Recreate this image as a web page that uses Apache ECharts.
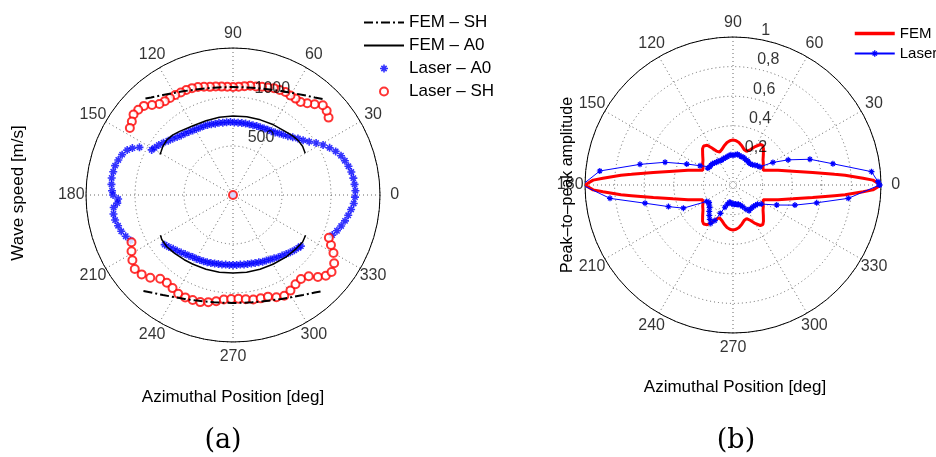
<!DOCTYPE html>
<html><head><meta charset="utf-8">
<script src="https://cdn.jsdelivr.net/npm/echarts@6/dist/echarts.min.js"></script>
<style>html,body{margin:0;padding:0;background:#fff}#c{width:936px;height:457px}</style>
</head><body><div id="c"></div>
<script>
// ---------- tick labels ----------
const angleTicks = [0,30,60,90,120,150,180,210,240,270,300,330];
const radiusTicksA = [500, 1000];
const radiusTickLabelsA = ['500', '1000'];
const radiusTicksB = [0.2, 0.4, 0.6, 0.8, 1];
const radiusTickLabelsB = ['0,2', '0,4', '0,6', '0,8', '1'];

// ---------- (a) data: [angle deg, wave speed m/s] ----------
const femShUpper = [[47,1340],[50,1299],[55,1246],[60,1203],[65,1170],[70,1144],[75,1125],[80,1112],[85,1104],[90,1102],[95,1104],[100,1112],[105,1125],[110,1144],[115,1170],[120,1203],[125,1246],[130,1299],[133,1340]];
const femShLower = [[227,1340],[230,1299],[235,1246],[240,1203],[245,1170],[250,1144],[255,1125],[260,1112],[265,1104],[270,1102],[275,1104],[280,1112],[285,1125],[290,1144],[295,1170],[300,1203],[305,1246],[310,1299],[313,1340]];
const femA0Upper = [[30,851],[35,867],[40,867],[45,857],[50,842],[60,827],[70,816],[80,811],[90,806],[100,806],[110,806],[120,816],[130,847],[135,867],[140,878],[145,872],[149,857],[151,852]];
const femA0Lower = [[209,847],[212,857],[218,857],[225,842],[233,827],[240,816],[250,806],[260,801],[270,796],[280,801],[290,806],[300,816],[310,832],[320,847],[326,857],[331,847]];
const laserA0 = [[0,0],
 [338,1092],[341,1122],[344,1148],[347,1173],[350,1194],[353,1214],[356,1235],[359,1245],
 [2,1250],[5,1245],[8,1240],[11,1230],[14,1214],[17,1194],[20,1173],[23,1138],[26,1097],[29,1051],
 [32,1000],[35,949],[38,908],[41,878],[44,847],[47,821],[50,801],[53,786],[56,770],[59,760],
 [62,755],[65,750],[68,745],[71,745],[74,740],[77,740],[80,740],[83,740],[86,740],[89,740],
 [92,745],[95,745],[98,745],[101,750],[104,750],[107,755],[110,760],[113,765],[116,765],[119,770],
 [122,776],[125,786],[128,796],[131,806],[134,821],[137,842],[140,862],[143,888],[146,913],[149,934],[151,949],
 [153,1071],[155,1133],[157,1173],[160,1204],[163,1224],[166,1240],[169,1245],[172,1250],[175,1245],
 [178,1235],[180,1224],[182,1173],[184,1184],[186,1224],[189,1235],[192,1230],[195,1214],[198,1199],[201,1173],[204,1143],
 [216,862],[219,842],[222,821],[225,806],[228,791],[231,776],[234,765],[237,755],[240,750],[243,745],
 [246,740],[249,735],[252,730],[255,724],[258,719],[261,719],[264,714],[267,714],[270,714],[273,714],
 [276,714],[279,719],[282,719],[285,724],[288,730],[291,735],[294,745],[297,750],[300,760],[303,770],
 [306,786],[309,796],[312,811],[315,827],[318,842],[321,857],[323,867]];
const laserSH = [[0,0],
 [39,1255],[42,1286],[45,1296],[48,1245],[51,1204],[54,1173],[57,1173],[60,1173],[63,1179],[66,1173],
 [69,1168],[72,1153],[75,1143],[78,1133],[81,1128],[84,1117],[87,1107],[90,1102],[93,1107],[96,1112],
 [99,1122],[102,1128],[105,1143],[108,1158],[111,1168],[114,1173],[117,1173],[120,1179],[123,1181],
 [126,1184],[129,1194],[132,1235],[135,1286],[138,1301],[141,1306],[144,1276],[147,1255],
 [205,1143],[209,1184],[213,1224],[217,1255],[221,1235],[225,1194],[229,1133],[233,1122],[237,1133],
 [241,1153],[245,1153],[249,1148],[253,1143],[257,1122],[261,1097],[265,1071],[269,1061],[273,1061],
 [277,1071],[281,1087],[285,1092],[289,1097],[293,1133],[297,1153],[301,1138],[305,1112],[309,1102],
 [313,1133],[316,1204],[319,1255],[322,1276],[326,1245],[330,1184],[333,1122],[336,1071]];

// ---------- (b) data: [angle deg, peak-to-peak amplitude] ----------
const femB = [[0,1.00],[2,0.946],[3,0.88],[5,0.76],[6,0.69],[9,0.545],[13,0.415],[18,0.32],[22,0.265],[26,0.228],
 [30,0.234],[35,0.25],[40,0.265],[45,0.29],[50,0.32],[53,0.335],[56,0.33],[60,0.30],[64,0.265],[68,0.245],
 [72,0.25],[77,0.27],[82,0.29],[86,0.30],[90,0.305],[94,0.30],[98,0.29],[103,0.27],[108,0.25],[112,0.24],
 [116,0.255],[120,0.29],[123,0.32],[127,0.33],[130,0.32],[135,0.29],[140,0.265],[145,0.25],[150,0.234],
 [154,0.228],[158,0.265],[162,0.32],[167,0.415],[171,0.545],[174,0.69],[175,0.76],[177,0.88],[178,0.946],[180,1.00],
 [182,0.946],[183,0.88],[185,0.76],[186,0.69],[189,0.545],[193,0.415],[198,0.32],[202,0.265],[206,0.228],
 [210,0.234],[215,0.25],[220,0.265],[225,0.29],[230,0.32],[233,0.33],[237,0.32],[240,0.29],[244,0.255],
 [248,0.24],[252,0.25],[257,0.27],[262,0.29],[266,0.30],[270,0.305],[274,0.30],[278,0.29],[283,0.27],
 [288,0.25],[292,0.245],[296,0.265],[300,0.30],[304,0.33],[307,0.335],[310,0.32],[315,0.29],[320,0.265],
 [325,0.25],[330,0.234],[334,0.228],[338,0.265],[342,0.32],[347,0.415],[351,0.545],[354,0.69],[355,0.76],
 [357,0.88],[358,0.946],[360,1.00]];
const laserB = [[0,0.99],[1.3,0.98],[5.5,0.94],[12,0.69],[18.5,0.548],[24.5,0.41],[29.5,0.31],[34,0.22],
 [38,0.21],[42,0.2],[46,0.19],[50,0.185],[54,0.185],[58,0.19],[62,0.19],[66,0.195],[70,0.2],[74,0.2],
 [78,0.205],[82,0.21],[86,0.205],[90,0.2],[94,0.205],[98,0.2],[102,0.195],[106,0.19],[110,0.19],
 [114,0.185],[118,0.185],[122,0.19],[126,0.19],[130,0.195],[134,0.2],[138,0.2],[142,0.2],[146,0.205],
 [149.7,0.258],[155.6,0.343],[161.5,0.484],[167.5,0.644],[174,0.905],[180,1.02],[186.2,0.836],
 [191.7,0.607],[198.5,0.46],[205,0.37],[212,0.21],[216,0.2],[220,0.21],[224,0.22],[228,0.24],[232,0.26],
 [236,0.28],[240,0.3],[243,0.27],[246,0.21],[250,0.16],[254,0.135],[258,0.12],[262,0.12],[266,0.125],
 [270,0.13],[274,0.13],[278,0.13],[282,0.135],[286,0.135],[290,0.145],[294,0.16],[298,0.185],[302,0.205],
 [306,0.2],[310,0.2],[314,0.2],[318,0.205],[322,0.21],[326,0.23],[335.4,0.325],[342,0.44],[348,0.578],
 [353.4,0.784],[360,0.99]];

// ---------- helpers ----------
const FONT = '"Liberation Sans", Arial, Helvetica, sans-serif';
const toPolar = pairs => pairs.map(p => [p[1], p[0]]);
const STAR = 'path://M4,0H6V4H10V6H6V10H4V6H0V4H4Z M1,2.4L2.4,1L9,7.6L7.6,9Z M7.6,1L9,2.4L2.4,9L1,7.6Z';
const gridLine = {show: true, lineStyle: {color: '#666', width: 1, type: [1, 3]}};
const noDot = {opacity: 0};

function angleAxis(idx) {
  return {polarIndex: idx, type: 'value', min: 0, max: 360, interval: 30, startAngle: 0, clockwise: false,
    axisLine: {show: true, lineStyle: {color: '#000', width: 1}}, axisTick: {show: false},
    axisLabel: {show: false}, splitLine: gridLine, splitArea: {show: false}};
}
function radiusAxis(idx, max, interval) {
  return {polarIndex: idx, type: 'value', min: 0, max: max, interval: interval,
    axisLine: {show: false}, axisTick: {show: false}, axisLabel: {show: false},
    splitLine: gridLine, splitArea: {show: false}};
}
function angleLabelSeries(idx, rmax) {
  return {type: 'scatter', coordinateSystem: 'polar', polarIndex: idx, silent: true, clip: false,
    symbolSize: 1, itemStyle: {color: 'rgba(0,0,0,0)'},
    data: angleTicks.map(a => [rmax * 1.1, a]),
    label: {show: true, position: 'inside', formatter: p => String(p.value[1]),
      fontSize: 16, fontFamily: FONT, color: '#000'}, z: 5};
}
function ringLabelSeries(idx, ticks, labels, rinc) {
  return {type: 'scatter', coordinateSystem: 'polar', polarIndex: idx, silent: true, clip: false,
    symbolSize: 1, itemStyle: {color: 'rgba(0,0,0,0)'},
    data: ticks.map((t, i) => ({value: [t + rinc / 20, 82], name: labels[i]})),
    label: {show: true, position: [8, 2], align: 'left', verticalAlign: 'bottom',
      formatter: p => p.name, fontSize: 16, fontFamily: FONT, color: '#000'}, z: 5};
}
function txt(x, y, text, size, family, rot) {
  return {type: 'text', x: x, y: y, rotation: rot || 0, silent: true,
    style: {text: text, fontSize: size, fontFamily: family, fill: '#000',
      align: 'center', verticalAlign: 'middle', textAlign: 'center', textVerticalAlign: 'middle'}};
}

const chart = echarts.init(document.getElementById('c'), null, {renderer: 'canvas'});
chart.setOption({
  animation: false,
  backgroundColor: '#fff',
  polar: [{center: [233, 195], radius: 147}, {center: [733, 185], radius: 148}],
  angleAxis: [angleAxis(0), angleAxis(1)],
  radiusAxis: [radiusAxis(0, 1500, 500), radiusAxis(1, 1, 0.2)],
  legend: [
    {data: [{name: 'FEM – SH', itemStyle: noDot, lineStyle: {width: 2}}, {name: 'FEM – A0', itemStyle: noDot, lineStyle: {width: 2}}, 'Laser – A0', 'Laser – SH'],
      orient: 'vertical', left: 363, top: 14,
      itemWidth: 40, itemHeight: 8, itemGap: 6, selectedMode: false, padding: 0,
      textStyle: {fontSize: 17, fontFamily: FONT, color: '#000'}},
    {data: [{name: 'FEM', itemStyle: noDot, lineStyle: {width: 3.5}}, 'Laser'], orient: 'vertical', left: 853, top: 26,
      itemWidth: 40, itemHeight: 8, itemGap: 5, selectedMode: false, padding: 0,
      textStyle: {fontSize: 15, fontFamily: FONT, color: '#000'}}
  ],
  graphic: [
    txt(18, 193, 'Wave speed [m/s]', 17, FONT, Math.PI / 2),
    txt(568, 185, 'Peak–to–peak amplitude', 16, FONT, Math.PI / 2),
    txt(233, 397, 'Azimuthal Position [deg]', 17, FONT),
    txt(735, 387, 'Azimuthal Position [deg]', 17, FONT),
    txt(223, 441, '(a)', 27, '"DejaVu Serif", serif'),
    txt(736, 441, '(b)', 27, '"DejaVu Serif", serif')
  ],
  series: [
    {name: 'FEM – SH', type: 'line', coordinateSystem: 'polar', polarIndex: 0, data: toPolar(femShUpper),
      symbol: 'none', lineStyle: {color: '#000', width: 2, type: [9, 3, 2, 3]}, itemStyle: {color: '#000'}},
    {name: 'FEM – SH', type: 'line', coordinateSystem: 'polar', polarIndex: 0, data: toPolar(femShLower),
      symbol: 'none', lineStyle: {color: '#000', width: 2, type: [9, 3, 2, 3]}, itemStyle: {color: '#000'}},
    {name: 'FEM – A0', type: 'line', coordinateSystem: 'polar', polarIndex: 0, data: toPolar(femA0Upper),
      symbol: 'none', lineStyle: {color: '#000', width: 1.5}, itemStyle: {color: '#000'}},
    {name: 'FEM – A0', type: 'line', coordinateSystem: 'polar', polarIndex: 0, data: toPolar(femA0Lower),
      symbol: 'none', lineStyle: {color: '#000', width: 1.5}, itemStyle: {color: '#000'}},
    {name: 'Laser – A0', type: 'scatter', coordinateSystem: 'polar', polarIndex: 0, data: toPolar(laserA0),
      symbol: STAR, symbolSize: 8, itemStyle: {color: '#0000ff'}},
    {name: 'Laser – SH', type: 'scatter', coordinateSystem: 'polar', polarIndex: 0, data: toPolar(laserSH),
      symbol: 'emptyCircle', symbolSize: 8, itemStyle: {color: '#ff0000', borderColor: '#ff0000', borderWidth: 1}},
    {name: 'FEM', type: 'line', coordinateSystem: 'polar', polarIndex: 1, data: toPolar(femB),
      symbol: 'none', lineStyle: {color: '#ff0000', width: 3}, itemStyle: {color: '#ff0000'}},
    {name: 'Laser', type: 'line', coordinateSystem: 'polar', polarIndex: 1, data: toPolar(laserB),
      symbol: STAR, symbolSize: 6, showSymbol: true, showAllSymbol: true,
      lineStyle: {color: '#0000ff', width: 1}, itemStyle: {color: '#0000ff'}},
    angleLabelSeries(0, 1500), angleLabelSeries(1, 1),
    ringLabelSeries(0, radiusTicksA, radiusTickLabelsA, 500),
    ringLabelSeries(1, radiusTicksB, radiusTickLabelsB, 0.2)
  ]
});
</script></body></html>
